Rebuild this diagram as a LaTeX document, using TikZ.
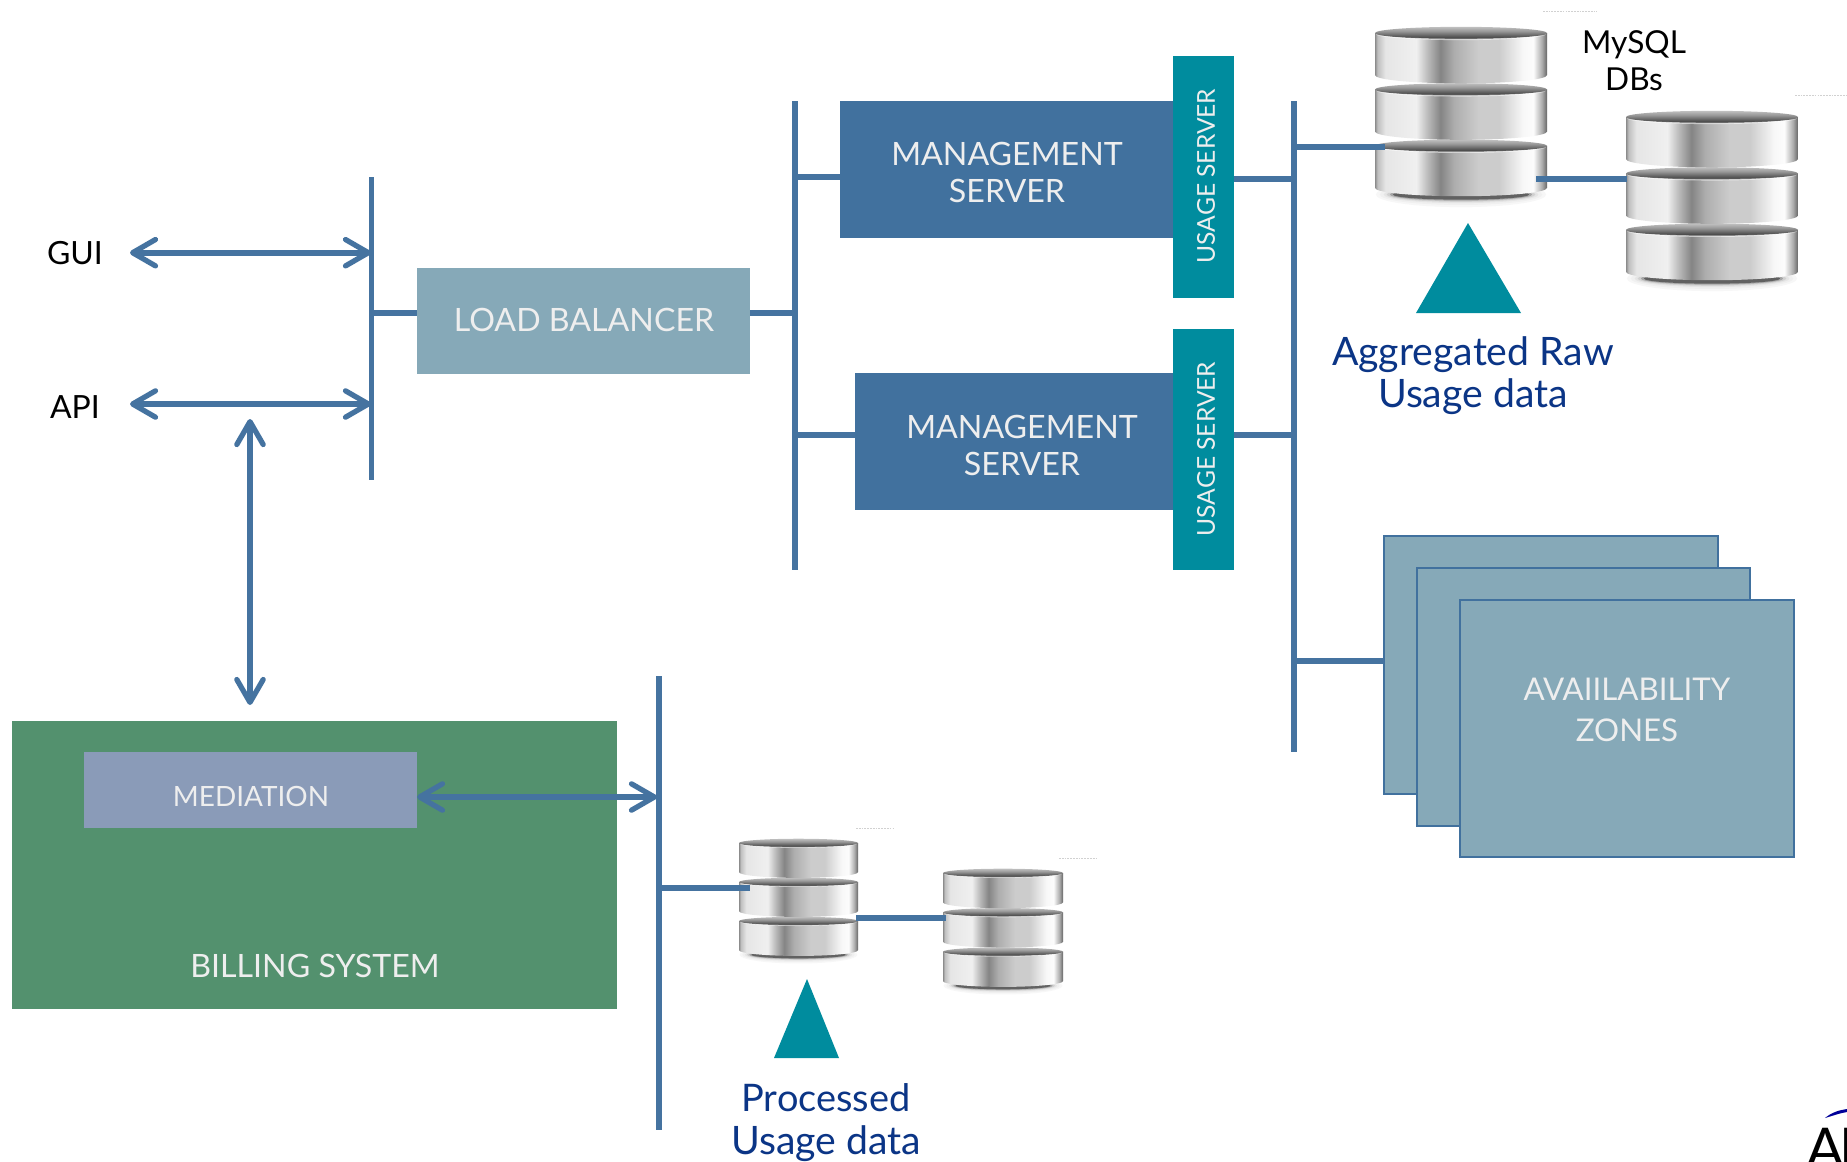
\documentclass[tikz,border=0pt]{standalone}
\usepackage{fontspec}
\setmainfont{Lato}
\usetikzlibrary{arrows.meta}
\definecolor{linkblue}{HTML}{4573A0}
\definecolor{mgmt}{HTML}{41719E}
\definecolor{lb}{HTML}{86A9B8}
\definecolor{teal1}{HTML}{008C9E}
\definecolor{bill}{HTML}{53916E}
\definecolor{med}{HTML}{8A9BB8}
\definecolor{navy}{HTML}{0B3586}
\definecolor{offwhite}{HTML}{EEEEEE}
% TikZ fits the middle 50bp (25bp to 75bp) of a shading to the path
\pgfdeclarehorizontalshading{diskside}{100bp}{
 color(0bp)=(black!45);color(25bp)=(black!45);color(25.75bp)=(black!25);color(28bp)=(black!10);color(37bp)=(black!6);color(40.5bp)=(black!28);color(44bp)=(black!48);color(48bp)=(black!32);color(55bp)=(black!20);color(61bp)=(black!20);color(68bp)=(black!3);color(71bp)=(black!1);color(73.5bp)=(black!32);color(75bp)=(black!60);color(100bp)=(black!60)}
\pgfdeclareverticalshading{disktop}{100bp}{
 color(0bp)=(black!78);color(25bp)=(black!78);color(40bp)=(black!62);color(58bp)=(black!40);color(75bp)=(black!25);color(100bp)=(black!25)}
\pgfmathsetmacro{\pxu}{0.02}
\tikzset{
 x=0.02cm,y=-0.02cm,
 bx/.style={draw=none,fill=#1,anchor=north west,inner sep=0,outer sep=0},
 lbl/.style={font=\fontsize{18.3}{21.5}\selectfont,text=offwhite,align=center,inner sep=0},
 blk/.style={font=\fontsize{18.2}{21}\selectfont,text=black,align=center,inner sep=0},
 nav/.style={font=\fontsize{22.3}{24}\selectfont,text=navy,align=center,inner sep=0},
 link/.style={draw=linkblue,line width=3.4pt},
 dbl/.style={draw=linkblue,line width=3.4pt,{Straight Barb[length=13pt,width=15pt,line width=3pt,round]}-{Straight Barb[length=13pt,width=15pt,line width=3pt,round]}},
 az/.style={draw=mgmt,line width=1.4pt,fill=lb}
}
% one disk: #1 x left, #2 y of the middle of the top rim, #3 width
\newcommand{\onedisk}[3]{%
 \pgfmathsetmacro{\rx}{#3/2}\pgfmathsetmacro{\ry}{#3*0.036}\pgfmathsetmacro{\hh}{#3*0.245}\pgfmathsetmacro{\rb}{#3*0.048}%
 \pgfmathsetmacro{\xr}{#1+#3}\pgfmathsetmacro{\yb}{#2+\hh}\pgfmathsetmacro{\xm}{#1+\rx}%
 \path[shading=diskside] (#1,#2) -- (#1,\yb) arc[start angle=180,end angle=0,x radius=\rx,y radius=\rb] -- (\xr,#2) -- cycle;
 \path[shading=disktop] (\xm,#2) ellipse[x radius=\rx,y radius=\ry];
 \path[fill=white,opacity=.55] (#1+1,#2+\ry*0.2) arc[start angle=180,end angle=0,x radius=\rx-1,y radius=\ry*0.95] arc[start angle=0,end angle=180,x radius=\rx-1,y radius=\ry*0.7] -- cycle;
}
% stack of three disks with its shadow
\newcommand{\dbstack}[3]{%
 \pgfmathsetmacro{\pitch}{#3*0.328}\pgfmathsetmacro{\shx}{#1+#3/2}\pgfmathsetmacro{\shy}{#2+2*\pitch+#3*0.283}\pgfmathsetmacro{\shr}{#3*0.45}\pgfmathsetmacro{\shq}{#3*0.05}%
 \foreach \sc/\col in {1.1/3,1.05/6,1.0/10,0.96/18,0.92/35,0.88/62}{%
  \path[fill=black!\col] (\shx,\shy) ellipse[x radius=\shr*\sc,y radius=\shq*\sc*\sc*\sc*\sc];
 }%
 \pgfmathsetmacro{\ya}{#2+2*\pitch}\pgfmathsetmacro{\yc}{#2+\pitch}%
 \onedisk{#1}{\ya}{#3}\onedisk{#1}{\yc}{#3}\onedisk{#1}{#2}{#3}%
}
\begin{document}
\begin{tikzpicture}
\useasboundingbox (0,0) rectangle (1847,1161);
\path[fill=white] (0,0) rectangle (1847,1161);

% databases
\dbstack{1375}{33}{172}
\dbstack{1626}{117}{172}
\dbstack{739}{843}{119}
\dbstack{943}{873}{120}
\foreach \a/\b/\c in {1543/1597/11,1795/1847/95,856/893/828,1059/1097/858}
 \draw[black!18,line width=0.5pt,dash pattern=on 1pt off 0.6pt] (\a,\c) -- (\b,\c);

% boxes
\node[bx=lb,minimum width=333*\pxu cm,minimum height=106*\pxu cm] (lbal) at (417,268) {};
\node[bx=mgmt,minimum width=333*\pxu cm,minimum height=137*\pxu cm] (m1) at (840,101) {};
\node[bx=mgmt,minimum width=318*\pxu cm,minimum height=137*\pxu cm] (m2) at (855,373) {};
\node[bx=teal1,minimum width=61*\pxu cm,minimum height=242*\pxu cm] (u1) at (1173,56) {};
\node[bx=teal1,minimum width=61*\pxu cm,minimum height=241*\pxu cm] (u2) at (1173,329) {};
\node[bx=bill,minimum width=605*\pxu cm,minimum height=288*\pxu cm] (billing) at (12,721) {};
\node[bx=med,minimum width=333*\pxu cm,minimum height=76*\pxu cm] (mediation) at (84,752) {};
\path[az] (1384,536) rectangle (1718,794);
\path[az] (1417,568) rectangle (1750,826);
\path[az] (1460,600) rectangle (1794,857);
\coordinate (azedge) at (1384,661);

% triangles
\path[fill=teal1] (1468,223) -- (1521,313) -- (1416,313) -- cycle;
\path[fill=teal1] (807,979) -- (839,1058) -- (774,1058) -- cycle;

% buses
\coordinate (b1t) at (371.5,177); \coordinate (b1b) at (371.5,480);
\coordinate (b2t) at (795,101); \coordinate (b2b) at (795,570);
\coordinate (b3t) at (1294,101); \coordinate (b3b) at (1294,752);
\coordinate (b4t) at (659,676); \coordinate (b4b) at (659,1130);
\draw[link] (b1t) -- (b1b);
\draw[link] (b2t) -- (b2b);
\draw[link] (b3t) -- (b3b);
\draw[link] (b4t) -- (b4b);

% stems
\draw[link] (371.5,313) -- (lbal.west |- 0,313);
\draw[link] (lbal.east |- 0,313) -- (795,313);
\draw[link] (795,177) -- (m1.west |- 0,177);
\draw[link] (795,435) -- (m2.west |- 0,435);
\draw[link] (u1.east |- 0,179) -- (1294,179);
\draw[link] (u2.east |- 0,435) -- (1294,435);
\draw[link] (1294,147) -- (1385,147);
\draw[link] (1536,179) -- (1627,179);
\draw[link] (1294,661) -- (azedge);
\draw[link] (659,888) -- (750,888);
\draw[link] (856,918) -- (946,918);

% arrows
\coordinate (guiend) at (130,252.7); \coordinate (apiend) at (130,404);
\coordinate (vtop) at (250,419); \coordinate (vbot) at (250,705);
\draw[dbl] (guiend) -- (371,252.7);
\draw[dbl] (apiend) -- (371,404);
\draw[dbl] (vtop) -- (vbot);
\draw[dbl] (mediation.east |- 0,797) -- (657,797);

% labels
\node[blk] (tgui) at (75,253) {GUI};
\node[blk] (tapi) at (75,407) {API};
\node[lbl] (tlb) at (584,320) {LOAD BALANCER};
\node[lbl] (tm1) at (1007,172.5) {MANAGEMENT\\SERVER};
\node[lbl] (tm2) at (1022,445.5) {MANAGEMENT\\SERVER};
\node[lbl,rotate=90,font=\fontsize{14}{16}\selectfont] (tu1) at (1206,176) {USAGE SERVER};
\node[lbl,rotate=90,font=\fontsize{14}{16}\selectfont] (tu2) at (1206,449) {USAGE SERVER};
\node[blk,font=\fontsize{18}{21}\selectfont] (tdb) at (1634,61) {MySQL\\DBs};
\node[nav] (tagg) at (1473,375.5) {Aggregated Raw\\Usage data};
\node[nav] (tproc) at (826,1122.5) {{\fontsize{21.6}{24}\selectfont Processed}\\Usage data};
\node[lbl,font=\fontsize{17.8}{23.3}\selectfont] (taz) at (1627,710) {AVAIILABILITY\\ZONES};
\node[lbl,font=\fontsize{15.9}{18}\selectfont] (tmed) at (251,796) {MEDIATION};
\node[lbl] (tbill) at (315,966) {BILLING SYSTEM};

% logo, cut by the page edge as in the reference
\begin{scope}
\clip (0,0) rectangle (1847,1161);
\path[fill=blue!60!black] (1825,1118) .. controls (1832,1112) and (1840,1110) .. (1847,1109) -- (1847,1112) .. controls (1840,1113) and (1832,1116) .. (1825,1118) -- cycle;
\node[anchor=base west,inner sep=0,font=\fontsize{32}{32}\selectfont] (tlogo) at (1806,1168) {A\kern-3pt P};
\end{scope}
\end{tikzpicture}
\end{document}
